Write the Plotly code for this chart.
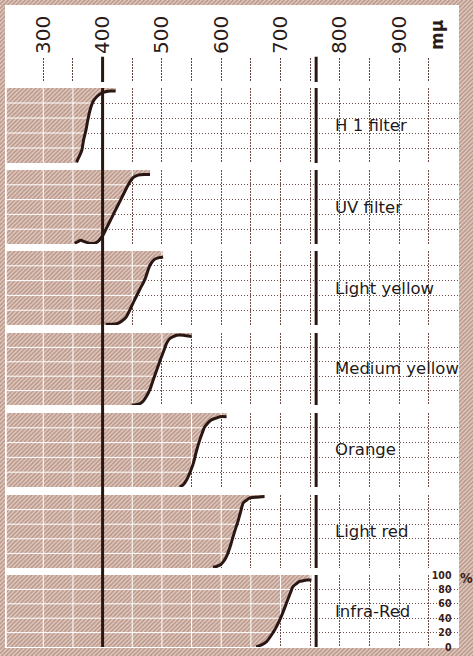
import numpy as np
import plotly.graph_objects as go

W, H = 473, 656

# Wavelength scale in millimicrons
X_RANGE = [238, 1000]
GRID_NM = list(range(300, 951, 50))
LABEL_NM = list(range(300, 901, 100))
VISIBLE_LIMITS = [400, 760]
PCT_TICKS = [0, 20, 40, 60, 80, 100]

FILTER_NAMES = ["H 1 filter", "UV filter", "Light yellow", "Medium yellow",
                "Orange", "Light red", "Infra-Red"]

# Transmission curves: wavelength (mμ) and transmission (%)
H1_NM = [356, 359, 365, 368, 372, 375, 379, 384, 391, 398, 405, 414, 422]
H1_T = [1, 6, 17, 31, 44, 57, 71, 82, 89, 93, 95, 96, 96]

UV_NM = [353, 358, 363, 370, 378, 386, 393, 398, 402, 410, 420, 430, 440, 446, 452, 460, 470, 480]
UV_T = [1, 3, 5, 3, 1, 1, 4, 9, 14, 27, 43, 59, 75, 84, 90, 93, 94, 94]

LY_NM = [405, 415, 425, 432, 440, 447, 454, 462, 471, 480, 488, 495, 502]
LY_T = [1, 1, 2, 5, 11, 22, 34, 47, 61, 81, 89, 91, 92]

MY_NM = [449, 456, 463, 469, 474, 480, 485, 491, 497, 503, 508, 513, 519, 525, 536, 550]
MY_T = [0, 0.5, 2, 6, 12, 22, 34, 48, 62, 75, 86, 92, 95, 97, 97, 95]

OR_NM = [530, 536, 542, 548, 553, 558, 564, 568, 572, 578, 584, 591, 598, 609]
OR_T = [0, 3, 10, 21, 32, 48, 64, 73, 81, 87, 91, 93, 95, 95]

LR_NM = [586, 592, 598, 604, 609, 615, 620, 625, 629, 633, 637, 643, 648, 660, 673]
LR_T = [1, 2, 4, 9, 16, 29, 43, 56, 66, 78, 89, 93, 96, 97, 98]

IR_NM = [659, 668, 676, 685, 693, 702, 710, 716, 721, 727, 732, 738, 744, 752]
IR_T = [0, 3, 7, 17, 28, 44, 61, 74, 84, 88, 91, 92, 93, 93]

CURVES = [(H1_NM, H1_T), (UV_NM, UV_T), (LY_NM, LY_T), (MY_NM, MY_T),
          (OR_NM, OR_T), (LR_NM, LR_T), (IR_NM, IR_T)]

# ---- layout geometry (pixels) ----
PANEL_PX = [(88, 163), (170, 244), (251, 325), (333, 405),
            (413, 487), (495, 568), (575, 647)]
HEADER_PX = (58, 82)
PLOT_X_PX = (6.5, 458.5)
SHEET_PX = (5, 5, 459, 648)   # left, top, right, bottom

INK = "#2a1714"
GRID = "#6f4d47"
HATCH_FG = "#8d5f55"
HATCH_BG = "#e2cabe"
TEXT_FONT = "DejaVu Sans, Lato, sans-serif"
NARROW_FONT = "Liberation Sans Narrow, DejaVu Sans Condensed, Roboto, sans-serif"
DOTS = "1.5px,1.5px"


def fx(p):
    return p / W


def fy(p):
    return 1 - p / H


hatch = dict(shape="/", fgcolor=HATCH_FG, bgcolor=HATCH_BG, size=3, solidity=0.5)

fig = go.Figure()
layout = dict(
    width=W, height=H,
    margin=dict(l=0, r=0, t=0, b=0, autoexpand=False),
    paper_bgcolor=HATCH_BG,
    plot_bgcolor="rgba(0,0,0,0)",
    showlegend=False,
)

# ---- background: hatched border with the white sheet ----
layout["xaxis"] = dict(domain=[0, 1], range=[0, 1], visible=False, fixedrange=True,
                       automargin=False)
layout["yaxis"] = dict(domain=[0, 1], range=[0, 1], visible=False, fixedrange=True,
                       automargin=False)
fig.add_trace(go.Scatter(x=[0, 1, 1, 0, 0], y=[0, 0, 1, 1, 0], mode="lines",
                         fill="toself", fillcolor=HATCH_BG, fillpattern=hatch,
                         line=dict(width=0), hoverinfo="skip", xaxis="x", yaxis="y"))
sl, st, sr, sb = SHEET_PX
fig.add_trace(go.Scatter(x=[fx(sl), fx(sr), fx(sr), fx(sl), fx(sl)],
                         y=[fy(sb), fy(sb), fy(st), fy(st), fy(sb)], mode="lines",
                         fill="toself", fillcolor="white",
                         line=dict(width=0), hoverinfo="skip", xaxis="x", yaxis="y"))

x_dom = [fx(PLOT_X_PX[0]), fx(PLOT_X_PX[1])]
shapes = []
annotations = []


def grid_segments(nm, t):
    """White grid lines across the hatched (absorbed) part of a panel."""
    nm = np.asarray(nm, float)
    t = np.asarray(t, float)
    xs, ys = [], []
    for g in GRID_NM:
        if g <= nm[0]:
            xs += [g, g, None]
            ys += [0, 100, None]
        elif g < nm[-1]:
            xs += [g, g, None]
            ys += [float(np.interp(g, nm, t)), 100, None]
    for lvl in PCT_TICKS[1:-1]:
        idx = int(np.argmax(t >= lvl))
        if t[idx] < lvl:
            xc = nm[-1]
        elif idx == 0:
            xc = nm[0]
        else:
            x0, x1, y0, y1 = nm[idx - 1], nm[idx], t[idx - 1], t[idx]
            xc = x0 + (lvl - y0) * (x1 - x0) / (y1 - y0)
        xs += [X_RANGE[0], xc, None]
        ys += [lvl, lvl, None]
    return xs, ys


for i, ((top, bot), name, (nm, t)) in enumerate(zip(PANEL_PX, FILTER_NAMES, CURVES)):
    n = i + 2
    xa, ya = f"x{n}", f"y{n}"
    last = i == len(PANEL_PX) - 1
    layout[f"xaxis{n}"] = dict(
        domain=x_dom, range=X_RANGE, anchor=ya, fixedrange=True, automargin=False,
        tickvals=GRID_NM, showticklabels=False, ticks="",
        showgrid=True, gridcolor=GRID, gridwidth=1, griddash=DOTS,
        zeroline=False, showline=False,
    )
    layout[f"yaxis{n}"] = dict(
        domain=[fy(bot), fy(top)], range=[0, 100], anchor=xa, fixedrange=True,
        automargin=False,
        tickvals=PCT_TICKS, ticks="",
        showticklabels=last, side="right", ticklabelposition="inside",
        ticklabeloverflow="allow", ticklabelstandoff=4,
        tickfont=dict(family=NARROW_FONT, size=10.5, color="#3a1d18", weight="bold"),
        showgrid=True, gridcolor=GRID, gridwidth=1, griddash=DOTS,
        zeroline=False, showline=False,
    )

    # hatched area above the transmission curve
    fx_poly = [X_RANGE[0], X_RANGE[0], nm[0]] + list(nm) + [nm[-1], X_RANGE[0]]
    fy_poly = [100, 0, 0] + list(t) + [100, 100]
    fig.add_trace(go.Scatter(x=fx_poly, y=fy_poly, mode="lines", fill="toself",
                             fillcolor=HATCH_BG, fillpattern=hatch,
                             line=dict(width=0), hoverinfo="skip", xaxis=xa, yaxis=ya))
    gx, gy = grid_segments(nm, t)
    fig.add_trace(go.Scatter(x=gx, y=gy, mode="lines", line=dict(color="white", width=1),
                             hoverinfo="skip", xaxis=xa, yaxis=ya))
    fig.add_trace(go.Scatter(x=nm, y=t, mode="lines",
                             line=dict(color=INK, width=3, shape="spline", smoothing=0.6),
                             hoverinfo="skip", xaxis=xa, yaxis=ya, cliponaxis=False))

    # 760 mμ limit, broken between panels
    shapes.append(dict(type="line", xref=xa, yref=ya,
                       x0=VISIBLE_LIMITS[1], x1=VISIBLE_LIMITS[1], y0=0, y1=100,
                       line=dict(color=INK, width=3), layer="above"))

    annotations.append(dict(text=name, xref="paper", x=fx(333), xanchor="left",
                            yref=ya, y=50, yanchor="middle", showarrow=False,
                            font=dict(family=TEXT_FONT, size=16.5, color="#1f1a1a")))

# 400 mμ limit, continuous through all panels
shapes.append(dict(type="line", xref="x2", yref="paper",
                   x0=VISIBLE_LIMITS[0], x1=VISIBLE_LIMITS[0],
                   y0=fy(PANEL_PX[-1][1]), y1=fy(PANEL_PX[0][0]),
                   line=dict(color=INK, width=3), layer="above"))

# ---- header scale ----
hn = len(PANEL_PX) + 2
layout[f"xaxis{hn}"] = dict(
    domain=x_dom, range=X_RANGE, anchor=f"y{hn}", side="top", fixedrange=True,
    automargin=False,
    tickvals=GRID_NM, ticktext=[str(v) if v in LABEL_NM else "" for v in GRID_NM],
    tickangle=-90, ticks="", ticklabelstandoff=3,
    tickfont=dict(family=TEXT_FONT, size=20, color="#2a1a18"),
    showgrid=True, gridcolor="#5e4440", gridwidth=1, griddash=DOTS,
    zeroline=False, showline=False,
)
layout[f"yaxis{hn}"] = dict(domain=[fy(HEADER_PX[1]), fy(HEADER_PX[0])], range=[0, 1],
                            anchor=f"x{hn}", visible=False, fixedrange=True,
                            automargin=False)
fig.add_trace(go.Scatter(x=[X_RANGE[0]], y=[0], mode="markers", marker=dict(opacity=0),
                         hoverinfo="skip", xaxis=f"x{hn}", yaxis=f"y{hn}"))
for v in VISIBLE_LIMITS:
    shapes.append(dict(type="line", xref=f"x{hn}", yref=f"y{hn} domain",
                       x0=v, x1=v, y0=0, y1=1.05,
                       line=dict(color=INK, width=3), layer="above"))

annotations.append(dict(text="mμ", xref="paper", x=fx(437), xanchor="center",
                        yref="paper", y=fy(35), yanchor="middle",
                        textangle=-90, showarrow=False,
                        font=dict(family=TEXT_FONT, size=17, color="#2a1a18", weight="bold")))
annotations.append(dict(text="%", xref="paper", x=fx(466), xanchor="center",
                        yref="paper", y=fy(578), yanchor="middle",
                        showarrow=False,
                        font=dict(family=NARROW_FONT, size=14, color="#3a1d18", weight="bold")))

layout["shapes"] = shapes
layout["annotations"] = annotations
fig.update_layout(**layout)
fig.write_html("out.html", config=dict(displayModeBar=False))
